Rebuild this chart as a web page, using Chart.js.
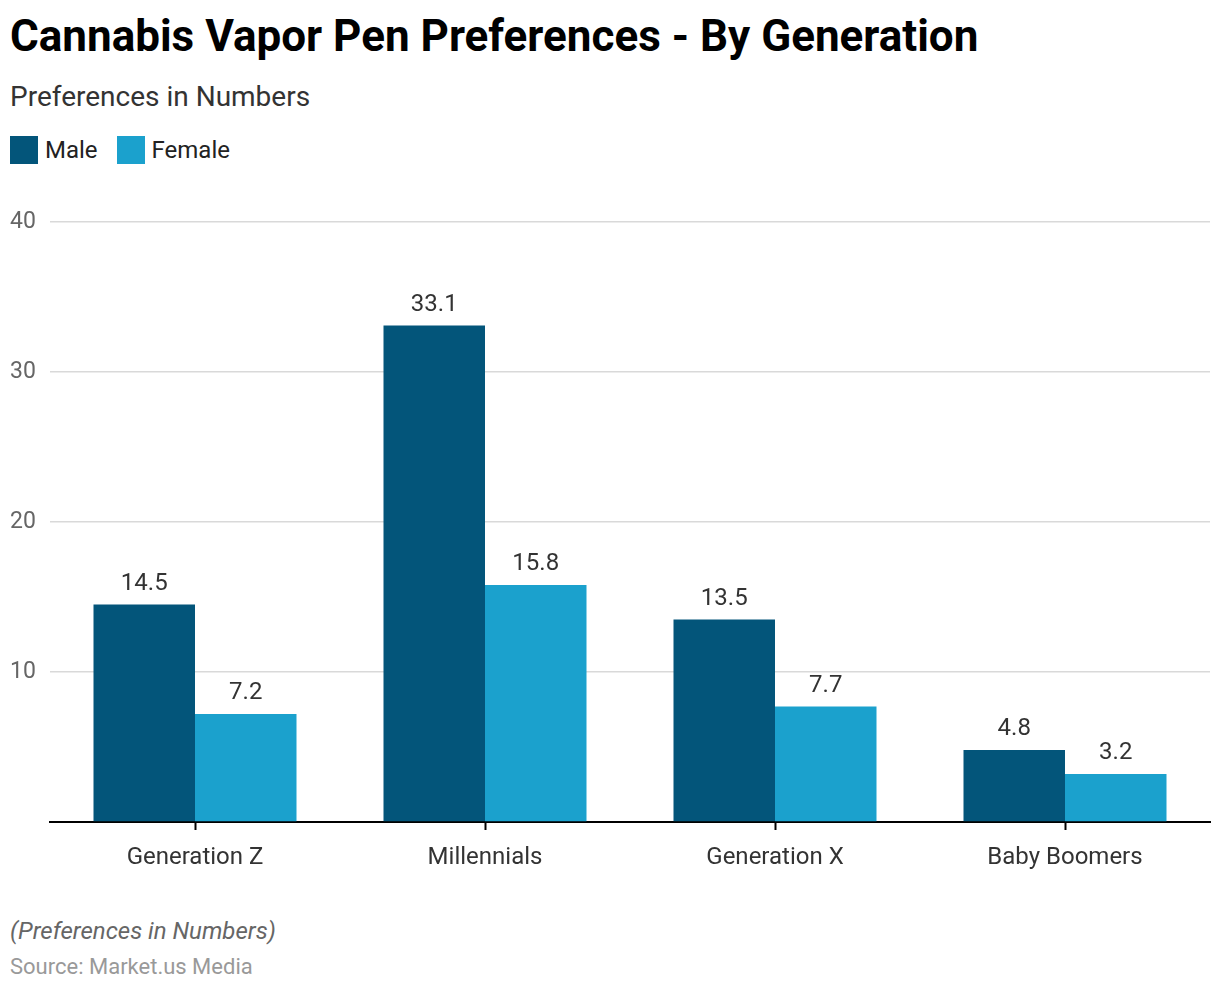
<!DOCTYPE html>
<html>
<head>
<meta charset="utf-8">
<script src="https://cdn.jsdelivr.net/npm/chart.js@4"></script>
<style>
  body { margin:0; width:1220px; height:992px; background:#fff; font-family:Roboto, sans-serif; position:relative; overflow:hidden; }
  .titulo { position:absolute; left:10px; top:10px; font-size:44px; font-weight:bold; color:#000; }
  .sub { position:absolute; left:10px; top:80px; font-size:28px; color:#333; }
  .legenda { position:absolute; left:10px; top:136px; display:flex; align-items:center; font-size:24px; color:#222; }
  .leg-box { width:28px; height:28px; margin-right:7px; }
  .leg-item { display:flex; align-items:center; margin-right:19px; }
  .nota { position:absolute; left:10px; top:917px; font-size:24px; font-style:italic; color:#666; }
  .fonte { position:absolute; left:10px; top:954px; font-size:22px; color:#999; }
  #wrap { position:absolute; left:0; top:200px; width:1220px; height:680px; }
</style>
</head>
<body>
<div class="titulo">Cannabis Vapor Pen Preferences - By Generation</div>
<div class="sub">Preferences in Numbers</div>
<div class="legenda">
  <div class="leg-item"><div class="leg-box" style="background:#03557A"></div>Male</div>
  <div class="leg-item"><div class="leg-box" style="background:#1BA1CD"></div>Female</div>
</div>
<div id="wrap"><canvas id="grafico"></canvas></div>
<div class="nota">(Preferences in Numbers)</div>
<div class="fonte">Source: Market.us Media</div>
<script>
const categorias = ["Generation Z", "Millennials", "Generation X", "Baby Boomers"];
const male   = [14.5, 33.1, 13.5, 4.8];
const female = [7.2, 15.8, 7.7, 3.2];
const yTicks = [0, 10, 20, 30, 40];

// rótulos de valor em cima das barras
const rotulos = {
  id: "rotulos",
  afterDatasetsDraw(chart) {
    const ctx = chart.ctx;
    ctx.save();
    ctx.font = "24px Roboto";
    ctx.fillStyle = "#333";
    ctx.textAlign = "center";
    ctx.textBaseline = "bottom";
    chart.data.datasets.forEach((ds, i) => {
      chart.getDatasetMeta(i).data.forEach((bar, j) => {
        ctx.fillText(ds.data[j].toFixed(1), bar.x, bar.y - 9);
      });
    });
    ctx.restore();
  }
};

new Chart(document.getElementById("grafico"), {
  type: "bar",
  data: {
    labels: categorias,
    datasets: [
      { label: "Male", data: male, backgroundColor: "#03557A" },
      { label: "Female", data: female, backgroundColor: "#1BA1CD" }
    ]
  },
  options: {
    responsive: true, maintainAspectRatio: false, animation: false,
    layout: { padding: { top: 22, right: 10, left: 10, bottom: 0 } },
    datasets: { bar: { categoryPercentage: 0.7, barPercentage: 1 } },
    plugins: { legend: { display: false }, tooltip: { enabled: false } },
    scales: {
      x: {
        afterFit: s => { s.height = 58; },
        grid: { drawOnChartArea: false, drawTicks: true, tickLength: 8, tickColor: "#000", tickWidth: 2, offset: false },
        border: { display: true, color: "#000", width: 2 },
        ticks: { color: "#333", font: { size: 24, family: "Roboto" }, padding: 14 }
      },
      y: {
        min: yTicks[0], max: yTicks[yTicks.length - 1],
        afterFit: s => { s.width = 40; },
        afterBuildTicks: s => { s.ticks = yTicks.map(v => ({ value: v })); },
        grid: { color: "#d9d9d9", lineWidth: 1.5, drawTicks: false },
        border: { display: false },
        ticks: {
          color: "#666", font: { size: 23, family: "Roboto" }, crossAlign: "far", padding: 0,
          callback: v => v === 0 ? "" : v
        }
      }
    }
  },
  plugins: [rotulos]
});
</script>
</body>
</html>
